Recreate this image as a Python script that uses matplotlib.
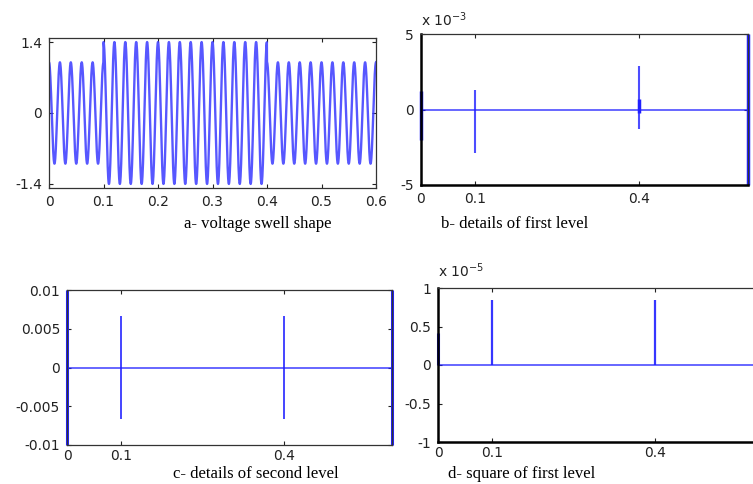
# voltage swell and its wavelet details (first / second level)
import numpy as np
import matplotlib.pyplot as plt

# --- panel a: voltage swell, segments of a 50 Hz wave
freq = 50
seg_start = [0.0, 0.1, 0.4]
seg_end = [0.1, 0.4, 0.6]
seg_amp = [1.0, 1.4, 1.0]

# --- panel b: details of first level (x 1e-3)
b_spike_t = [0.1, 0.4]
b_spike_top = [1.3e-3, 2.9e-3]
b_spike_bot = [-2.9e-3, -1.3e-3]
b_edge_t = [0.0, 0.6]
b_edge_top = [1.2e-3, 5e-3]
b_edge_bot = [-2.0e-3, -5e-3]

# --- panel c: details of second level
c_spike_t = [0.1, 0.4]
c_spike_top = [0.0067, 0.0067]
c_spike_bot = [-0.0067, -0.0067]
c_edge_t = [0.0, 0.6]
c_edge_top = [0.01, 0.01]
c_edge_bot = [-0.01, -0.01]

# --- panel d: square of first level (x 1e-5)
d_spike_t = [0.1, 0.4]
d_spike_top = [0.85e-5, 0.85e-5]
d_edge_t = [0.0]
d_edge_top = [0.42e-5]

captions = ["a- voltage swell shape", "b- details of first level",
            "c- details of second level", "d- square of first level"]

W, H = 753, 484
fig = plt.figure(figsize=(W / 100, H / 100), dpi=100)
plt.rcParams['font.family'] = 'DejaVu Sans'


def px_axes(left, top, right, bottom):
    return fig.add_axes([left / W, 1 - bottom / H, (right - left) / W, (bottom - top) / H])


def style(ax, thick=False):
    ax.tick_params(direction='in', length=3, top=True, right=True, labelsize=10,
                   width=0.8, pad=5, colors='#222222')
    for s in ax.spines.values():
        s.set_linewidth(0.9)
        s.set_color('#333333')
    if thick:
        ax.spines['left'].set_linewidth(1.8)
        ax.spines['left'].set_color('black')
        ax.spines['bottom'].set_linewidth(1.8)
        ax.spines['bottom'].set_color('black')
    ax.set_xlim(0, 0.6)


blue = '#2020ff'

# panel a: one continuous trace, amplitude switched per segment
ax = px_axes(49, 38, 376, 188)
t = np.arange(0, 0.6 + 1e-9, 1 / 4000)
amp = np.ones_like(t)
for t0, t1, a in zip(seg_start, seg_end, seg_amp):
    amp[(t >= t0 - 1e-9) & (t < t1 - 1e-9)] = a
amp[-1] = seg_amp[-1]
ax.plot(t, amp * np.cos(2 * np.pi * freq * t), color='#3a3aff', lw=1.7, alpha=0.85)
ax.set_ylim(-1.48, 1.48)
ax.set_yticks([-1.4, 0, 1.4])
ax.set_yticklabels(['-1.4', '0', '1.4'])
ax.set_xticks([0, 0.1, 0.2, 0.3, 0.4, 0.5, 0.6])
ax.set_xticklabels(['0', '0.1', '0.2', '0.3', '0.4', '0.5', '0.6'])
style(ax)

# panel b
ax = px_axes(421, 34, 748, 185)
ax.axhline(0, color=blue, lw=1.2, alpha=0.8)
ax.vlines(b_spike_t, b_spike_bot, b_spike_top, color=blue, lw=1.5, alpha=0.8)
ax.vlines([0.4], [-0.2e-3], [0.7e-3], color=blue, lw=2.5)
ax.vlines(b_edge_t, b_edge_bot, b_edge_top, color=blue, lw=2.5, clip_on=False)
ax.set_ylim(-5e-3, 5e-3)
ax.set_yticks([-5e-3, 0, 5e-3])
ax.set_yticklabels(['-5', '0', '5'])
ax.set_xticks([0, 0.1, 0.4])
ax.set_xticklabels(['0', '0.1', '0.4'])
style(ax, thick=True)
ax.text(0.0, 1.03, r'x 10$^{-3}$', transform=ax.transAxes, fontsize=10,
        ha='left', va='bottom', color='#222222')

# panel c
ax = px_axes(67, 290, 392, 445)
ax.axhline(0, color=blue, lw=1.2, alpha=0.8)
ax.vlines(c_spike_t, c_spike_bot, c_spike_top, color=blue, lw=1.3, alpha=0.9)
ax.vlines(c_edge_t, c_edge_bot, c_edge_top, color=blue, lw=2.2, clip_on=False)
ax.set_ylim(-0.01, 0.01)
ax.set_yticks([-0.01, -0.005, 0, 0.005, 0.01])
ax.set_yticklabels(['-0.01', '-0.005', '0', '0.005', '0.01'])
ax.set_xticks([0, 0.1, 0.4])
ax.set_xticklabels(['0', '0.1', '0.4'])
style(ax)
ax.tick_params(axis='x', pad=3)

# panel d
ax = px_axes(438, 288, 763, 442)
ax.axhline(0, color=blue, lw=1.2, alpha=0.8)
ax.vlines(d_spike_t, [0] * len(d_spike_t), d_spike_top, color=blue, lw=1.6, alpha=0.9)
ax.vlines(d_edge_t, [0] * len(d_edge_t), d_edge_top, color=blue, lw=2.2, clip_on=False)
ax.set_ylim(-1e-5, 1e-5)
ax.set_yticks([-1e-5, -0.5e-5, 0, 0.5e-5, 1e-5])
ax.set_yticklabels(['-1', '-0.5', '0', '0.5', '1'])
ax.set_xticks([0, 0.1, 0.4])
ax.set_xticklabels(['0', '0.1', '0.4'])
style(ax, thick=True)
ax.tick_params(axis='x', pad=3)
ax.text(0.0, 1.05, r'x 10$^{-5}$', transform=ax.transAxes, fontsize=10,
        ha='left', va='bottom', color='#222222')

# captions
cap_pos = [(258, 224), (515, 224), (256, 474), (522, 474)]
for txt, (x, y) in zip(captions, cap_pos):
    fig.text(x / W, 1 - y / H, txt, ha='center', va='center',
             family='Liberation Serif', fontsize=12)

fig.savefig('out.png', dpi=100)
